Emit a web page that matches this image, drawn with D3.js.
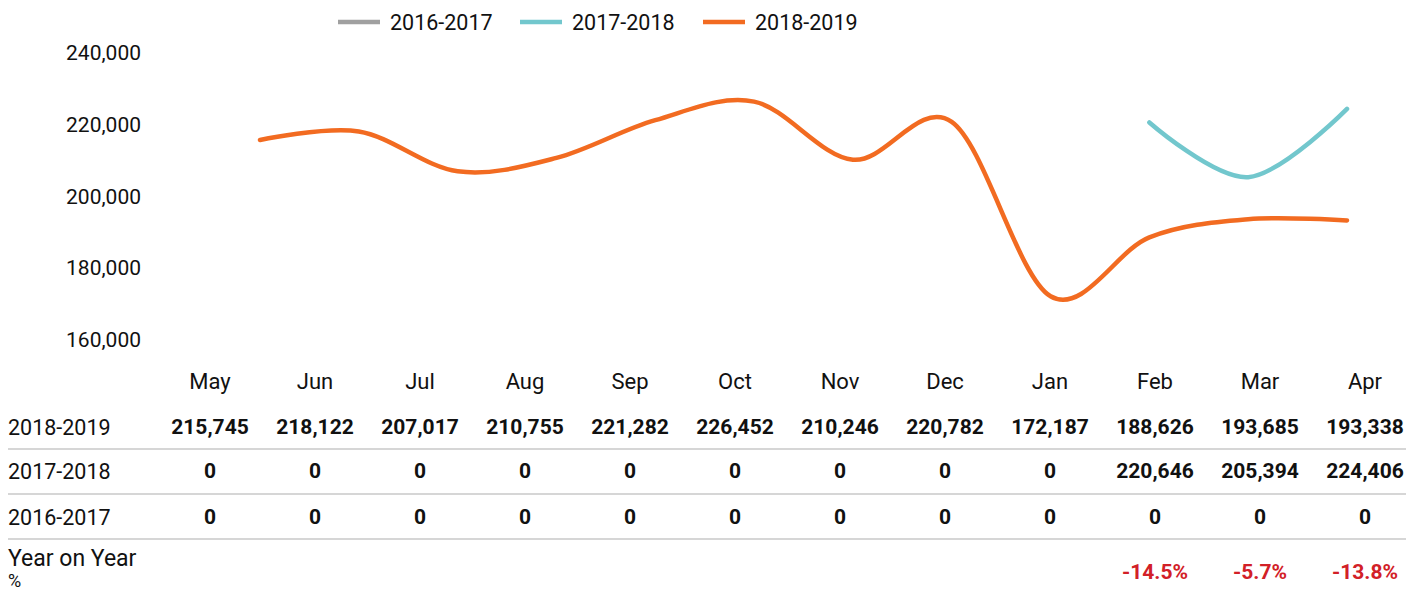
<!DOCTYPE html>
<html><head><meta charset="utf-8">
<script src="https://cdn.jsdelivr.net/npm/d3@7"></script>
<style>
html,body{margin:0;padding:0;background:#fff;}
svg{display:block;font-family:Roboto,"Noto Sans",sans-serif;}
</style></head>
<body>
<svg id="c" width="1406" height="594"></svg>
<script>
const months = ["May","Jun","Jul","Aug","Sep","Oct","Nov","Dec","Jan","Feb","Mar","Apr"];
const s2018_2019 = [215745,218122,207017,210755,221282,226452,210246,220782,172187,188626,193685,193338];
const s2017_2018 = [0,0,0,0,0,0,0,0,0,220646,205394,224406];
const s2016_2017 = [0,0,0,0,0,0,0,0,0,0,0,0];
const yoyLabels = ["","","","","","","","","","-14.5%","-5.7%","-13.8%"];
const yTicks = [160000,180000,200000,220000,240000];
const seriesNames = ["2016-2017","2017-2018","2018-2019"];
const seriesColors = ["#a0a0a0","#72c7cd","#f26b21"];

const svg = d3.select("#c");
const y = d3.scaleLinear().domain([160000,240000]).range([340,53]);
const xLine = d3.scalePoint().domain(months).range([260,1347]);
const xCol = d3.scalePoint().domain(months).range([210,1365]);
const fmt = d3.format(",");

// y axis labels
const yAxis = d3.axisLeft(y).tickValues(yTicks).tickFormat(fmt).tickSize(0).tickPadding(0);
const ga = svg.append("g").attr("transform","translate(141,0)").call(yAxis);
ga.select(".domain").remove();
ga.selectAll("text").attr("font-size",21).attr("fill","#111").attr("font-family","Roboto,sans-serif");

// lines
const line = d3.line().x(d=>xLine(d.m)).y(d=>y(d.v)).curve(d3.curveCardinal.tension(0));
const series = [
  {name:seriesNames[0], vals:s2016_2017, color:seriesColors[0]},
  {name:seriesNames[1], vals:s2017_2018, color:seriesColors[1]},
  {name:seriesNames[2], vals:s2018_2019, color:seriesColors[2]}
];
series.forEach(s=>{
  const pts = months.map((m,i)=>({m, v:s.vals[i]})).filter(d=>d.v>0);
  if(pts.length<2) return;
  svg.append("path").datum(pts).attr("d",line)
    .attr("fill","none").attr("stroke",s.color).attr("stroke-width",4.5).attr("stroke-linecap","round");
});

// legend
const legendX = [338,520,703];
series.forEach((s,i)=>{
  const g = svg.append("g").attr("transform",`translate(${legendX[i]},22)`);
  g.append("line").attr("x1",0).attr("x2",42).attr("y1",0).attr("y2",0).attr("stroke",s.color).attr("stroke-width",4.5);
  g.append("text").attr("x",52).attr("y",0).attr("dy","0.35em").attr("font-size",21.5).attr("fill","#111").text(s.name);
});

// month labels
svg.append("g").selectAll("text").data(months).join("text")
  .attr("x",d=>xCol(d)).attr("y",381).attr("dy","0.35em").attr("text-anchor","middle")
  .attr("font-size",22).attr("fill","#111").text(d=>d);

// table
const rows = [
  {label:"2018-2019", vals:s2018_2019, y:427},
  {label:"2017-2018", vals:s2017_2018, y:471},
  {label:"2016-2017", vals:s2016_2017, y:517}
];
const sepY = [449,494,539];
sepY.forEach(yy=>{
  svg.append("line").attr("x1",8).attr("x2",1406).attr("y1",yy).attr("y2",yy).attr("stroke","#c8c8c8").attr("stroke-width",1.5);
});
rows.forEach(r=>{
  svg.append("text").attr("x",8).attr("y",r.y).attr("dy","0.35em").attr("font-size",21.5).attr("fill","#111").text(r.label);
  svg.append("g").selectAll("text").data(months).join("text")
    .attr("x",d=>xCol(d)).attr("y",r.y).attr("dy","0.35em").attr("text-anchor","middle")
    .attr("font-size",21).attr("font-weight","bold").attr("fill","#111")
    .text((d,i)=>fmt(r.vals[i]));
});
svg.append("text").attr("x",8).attr("y",558).attr("dy","0.35em").attr("font-size",23).attr("fill","#111").text("Year on Year");
svg.append("text").attr("x",8).attr("y",581).attr("dy","0.35em").attr("font-size",18).attr("fill","#111").text("%");
svg.append("g").selectAll("text").data(months).join("text")
  .attr("x",d=>xCol(d)).attr("y",572).attr("dy","0.35em").attr("text-anchor","middle")
  .attr("font-size",21).attr("font-weight","bold").attr("fill","#d22027")
  .text((d,i)=>yoyLabels[i]);
</script>
</body></html>
